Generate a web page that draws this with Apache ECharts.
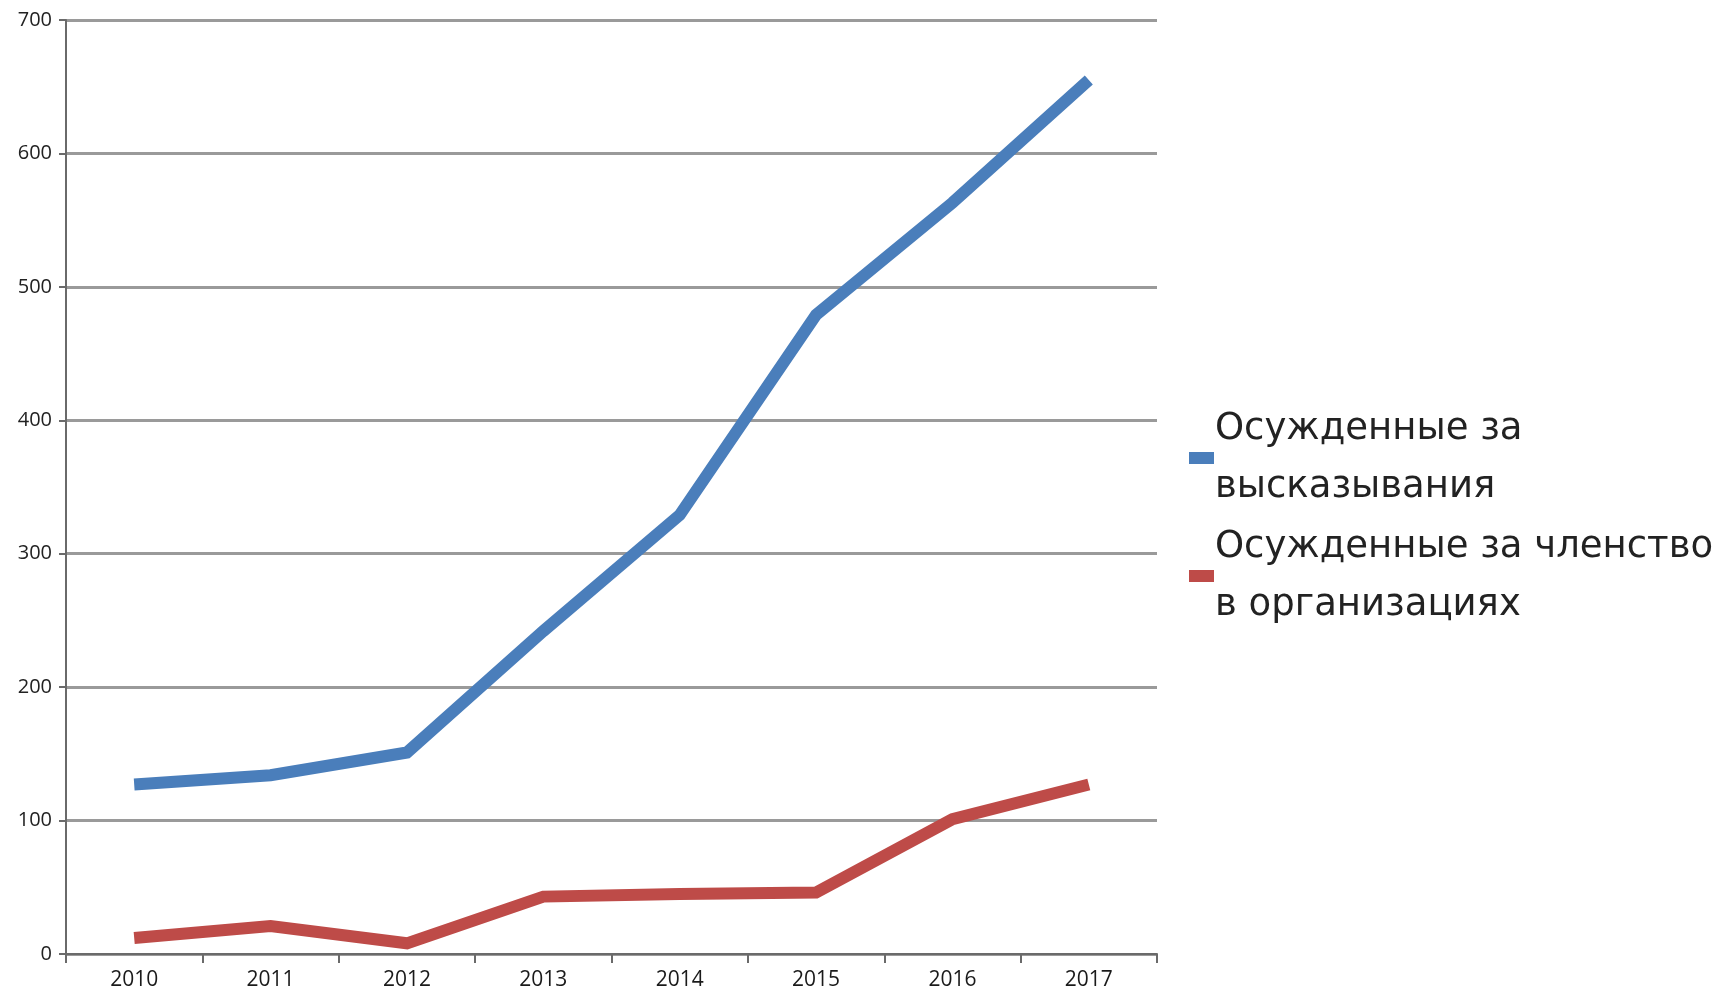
<!DOCTYPE html>
<html><head><meta charset="utf-8">
<script src="https://cdn.jsdelivr.net/npm/echarts@6/dist/echarts.min.js"></script>
<style>html,body{margin:0;padding:0;background:#fff}#c{width:1736px;height:998px}</style>
</head><body><div id="c"></div>
<script>
const years = ['2010','2011','2012','2013','2014','2015','2016','2017'];
const speech = [127, 134, 151, 242, 329, 479, 563, 655];
const membership = [12, 21, 8, 43, 45, 46, 101, 127];
const seriesNames = ['Осужденные за\nвысказывания', 'Осужденные за членство\nв организациях'];
const yTicks = [0, 100, 200, 300, 400, 500, 600, 700];

const chart = echarts.init(document.getElementById('c'));
chart.setOption({
  animation: false,
  backgroundColor: '#fff',
  grid: { left: 66, right: 579, top: 20, bottom: 44, containLabel: false },
  legend: {
    orient: 'vertical', left: 1184, top: 395, itemGap: 2,
    icon: 'rect', itemWidth: 25, itemHeight: 12,
    textStyle: { fontFamily: 'DejaVu Sans', fontSize: 37, lineHeight: 58, color: '#222', padding: [0,0,0,-4] },
    data: seriesNames
  },
  xAxis: {
    type: 'category', data: years, boundaryGap: true,
    axisLine: { lineStyle: { color: '#6a6a6a', width: 2 } },
    axisTick: { show: true, length: 9, lineStyle: { color: '#6a6a6a', width: 2 } },
    axisLabel: { fontFamily: 'Open Sans', fontSize: 21, color: '#1a1a1a', margin: 16 },
    splitLine: { show: false }
  },
  yAxis: {
    type: 'value', min: yTicks[0], max: yTicks[yTicks.length-1], interval: 100,
    axisLine: { show: true, lineStyle: { color: '#6a6a6a', width: 2 } },
    axisTick: { show: true, length: 7, lineStyle: { color: '#6a6a6a', width: 2 } },
    axisLabel: { fontFamily: 'Open Sans', fontSize: 20, color: '#222', margin: 14 },
    splitLine: { show: true, lineStyle: { color: '#9a9a9a', width: 3 } }
  },
  series: [
    { name: seriesNames[0], type: 'line', data: speech, symbol: 'none',
      itemStyle: { color: '#4A7EBB' }, lineStyle: { color: '#4A7EBB', width: 12, join: 'miter' } },
    { name: seriesNames[1], type: 'line', data: membership, symbol: 'none',
      itemStyle: { color: '#BE4B48' }, lineStyle: { color: '#BE4B48', width: 12, join: 'miter' } }
  ]
});
</script></body></html>
